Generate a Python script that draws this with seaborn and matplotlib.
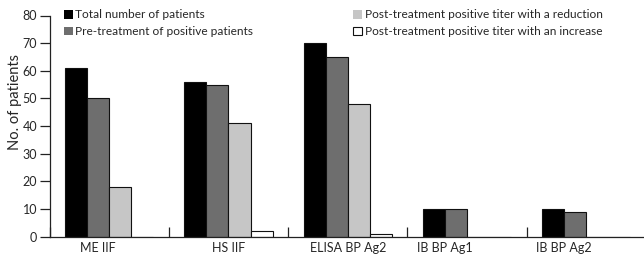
import numpy as np
import pandas as pd
import matplotlib
matplotlib.use("Agg")
import matplotlib.pyplot as plt
from matplotlib.patches import Patch
import seaborn as sns

# données
tests = ["ME IIF", "HS IIF", "ELISA BP Ag2", "IB BP Ag1", "IB BP Ag2"]
series = [
    "Total number of patients",
    "Pre-treatment of positive patients",
    "Post-treatment positive titer with a reduction",
    "Post-treatment positive titer with an increase",
]
total = [61, 56, 70, 10, 10]
pre_positive = [50, 55, 65, 10, 9]
post_reduction = [18, 41, 48, 0, 0]
post_increase = [0, 2, 1, 0, 0]

colors = ["#000000", "#6e6e6e", "#c6c6c6", "#ffffff"]

df = pd.DataFrame({
    "test": tests * 4,
    "series": [s for s in series for _ in tests],
    "value": total + pre_positive + post_reduction + post_increase,
})

sns.set_style("white")
plt.rcParams["font.family"] = ["Lato", "DejaVu Sans"]

fig = plt.figure(figsize=(6.44, 2.58), dpi=100)
ax = fig.add_axes([49.5 / 644, 21.3 / 258, (646 - 49.5) / 644, 221.2 / 258])

sns.barplot(data=df, x="test", y="value", hue="series", order=tests,
            hue_order=series, palette=colors, width=0.74, gap=0,
            edgecolor="#111111", linewidth=0.8, saturation=1,
            legend=False, ax=ax)

ax.set_xlim(-0.5, 4.5)
ax.set_ylim(0, 80)
ax.set_yticks(range(0, 81, 10))
ax.set_ylabel("No. of patients", fontsize=10.5)
ax.yaxis.set_label_coords(-0.046, 0.61)
ax.set_xlabel("")

# étiquettes centrées sur les barres non nulles
label_pos = []
for i in range(len(tests)):
    xs = [c.patches[i].get_x() + c.patches[i].get_width() / 2
          for c in ax.containers if c.patches[i].get_height() > 0]
    label_pos.append(np.mean(xs))
ax.set_xticks(label_pos)
ax.set_xticklabels(tests)
ax.set_xticks(np.arange(-0.5, 4.6, 1), minor=True)

ax.tick_params(axis="x", which="major", length=0, pad=4, labelsize=9)
ax.tick_params(axis="x", which="minor", direction="in", length=7,
               width=0.9, color="#222222", bottom=True)
ax.tick_params(axis="y", direction="out", length=7, width=0.9,
               color="#222222", pad=2, labelsize=9, left=True)

for side in ["top", "right"]:
    ax.spines[side].set_visible(False)
for side in ["left", "bottom"]:
    ax.spines[side].set_color("#222222")
    ax.spines[side].set_linewidth(0.9)

handles = [
    Patch(facecolor=colors[0], edgecolor="none"),
    Patch(facecolor=colors[1], edgecolor="none"),
    Patch(facecolor=colors[2], edgecolor="none"),
    Patch(facecolor=colors[3], edgecolor="#111111", linewidth=0.8),
]
leg_kw = dict(loc="upper left", frameon=False, fontsize=8.6,
              handlelength=0.75, handleheight=0.75, handletextpad=0.2,
              labelspacing=0.5, borderpad=0)
leg1 = ax.legend(handles[:2], series[:2],
                 bbox_to_anchor=(8.5 / 596.5, 1.055), **leg_kw)
ax.add_artist(leg1)
ax.legend(handles[2:], series[2:],
          bbox_to_anchor=(298 / 596.5, 1.055), **leg_kw)

fig.savefig("out.png", dpi=100)
